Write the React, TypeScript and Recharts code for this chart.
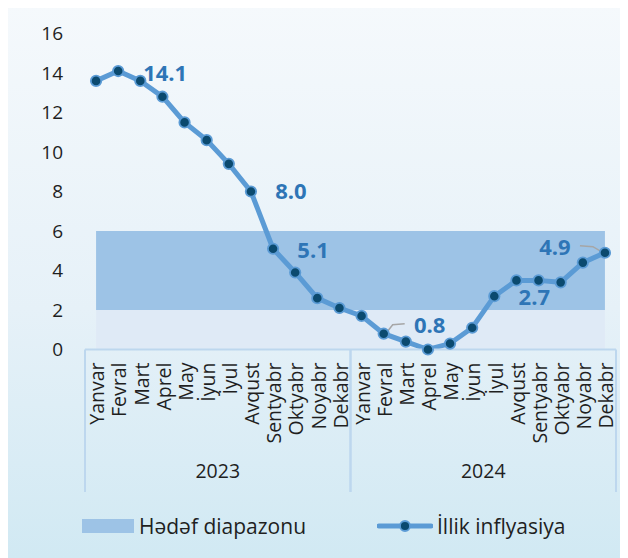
import React from 'react'
import { ComposedChart, Area, Line, XAxis, YAxis, Legend } from 'recharts'

const months = ['Yanvar', 'Fevral', 'Mart', 'Aprel', 'May', 'İyun', 'İyul', 'Avqust', 'Sentyabr', 'Oktyabr', 'Noyabr', 'Dekabr']
const years = ['2023', '2024']
const inflation2023 = [13.6, 14.1, 13.6, 12.8, 11.5, 10.6, 9.4, 8.0, 5.1, 3.9, 2.6, 2.1]
const inflation2024 = [1.7, 0.8, 0.4, 0.0, 0.3, 1.1, 2.7, 3.5, 3.5, 3.4, 4.4, 4.9]
const targetLow = 2
const targetHigh = 6
const yTicks = [0, 2, 4, 6, 8, 10, 12, 14, 16]

// which points get a value label, and where it sits relative to the point
const labelPlacement: Record<number, { dx: number; dy: number; leader?: number[][] }> = {
  1: { dx: 47, dy: 2 },
  7: { dx: 40, dy: 0 },
  8: { dx: 40, dy: 2 },
  13: { dx: 46, dy: -8, leader: [[2, 0], [9, -9], [21, -10]] },
  18: { dx: 40, dy: 1 },
  23: { dx: -50, dy: -5, leader: [[-2, 0], [-12, -6], [-25, -7]] },
}

const series = [inflation2023, inflation2024]
const data = years.flatMap((year, yi) =>
  months.map((month, mi) => ({
    id: `${month} ${year}`,
    month,
    year,
    value: series[yi][mi],
    low: targetLow,
    range: targetHigh - targetLow,
  }))
)

const FONT = '"Open Sans", "Noto Sans", sans-serif'
const LINE = '#5b9bd5'
const DOT = '#0b4a6f'
const BAND = '#9dc3e6'
const BAND_LOW = '#dfeaf6'
const AXIS = '#bdd7ee'
const TEXT = '#1f1f1f'
const LABEL = '#2e75b6'

const W = 620
const H = 554
const margin = { top: 29.5, right: 12, left: 0, bottom: 12 }
const plotLeft = 77
const bandW = (W - margin.right - plotLeft) / data.length

const MonthTick = (props: any) => {
  const { x, y, index } = props
  return (
    <text
      x={x}
      y={y + 13}
      transform={`rotate(-90, ${x}, ${y + 13})`}
      textAnchor="end"
      dy="0.42em"
      fontSize={19.5}
      fontFamily={FONT}
      fill={TEXT}
    >
      {data[index]?.month}
    </text>
  )
}

const YearTick = (props: any) => {
  const { x, y, payload } = props
  const half = bandW * months.length / 2
  return (
    <g>
      <line x1={x - half} x2={x - half} y1={y - 100} y2={y + 42.5} stroke={AXIS} strokeWidth={2} />
      <line x1={x + half} x2={x + half} y1={y - 100} y2={y + 42.5} stroke={AXIS} strokeWidth={2} />
      <text x={x} y={y + 21.5} dy="0.35em" textAnchor="middle" fontSize={19.5} fontFamily={FONT} fill={TEXT}>
        {payload.value}
      </text>
    </g>
  )
}

const renderDot = (props: any) => {
  const { cx, cy, index, value } = props
  const place = labelPlacement[index]
  const v = Array.isArray(value) ? value[1] : value
  return (
    <g key={`dot-${index}`}>
      {place?.leader && (
        <polyline
          points={place.leader.map(([a, b]) => `${cx + a},${cy + b}`).join(' ')}
          fill="none"
          stroke="#a6a6a6"
          strokeWidth={1.5}
        />
      )}
      <circle cx={cx} cy={cy} r={5.2} fill={DOT} stroke={LINE} strokeWidth={1.8} />
      {place && (
        <text
          x={cx + place.dx}
          y={cy + place.dy}
          dy="0.35em"
          textAnchor="middle"
          fontSize={22}
          fontWeight={700}
          fontFamily={FONT}
          fill={LABEL}
        >
          {Number(v).toFixed(1)}
        </text>
      )}
    </g>
  )
}

const renderLegend = () => (
  <div style={{ position: 'relative', height: 40, fontFamily: FONT, fontSize: 21, color: TEXT }}>
    <span style={{ position: 'absolute', left: 74, top: 13, width: 52, height: 14, background: BAND }} />
    <span style={{ position: 'absolute', left: 131, top: 5, lineHeight: '30px' }}>Hədəf diapazonu</span>
    <svg style={{ position: 'absolute', left: 369, top: 13 }} width={56} height={14}>
      <line x1={2} x2={54} y1={7} y2={7} stroke={LINE} strokeWidth={5} strokeLinecap="round" />
      <circle cx={28} cy={7} r={5} fill={DOT} stroke={LINE} strokeWidth={1.8} />
    </svg>
    <span style={{ position: 'absolute', left: 429, top: 5, lineHeight: '30px' }}>İllik inflyasiya</span>
  </div>
)

export default function App() {
  return (
    <div
      style={{
        width: W,
        height: H,
        marginTop: -4,
        background: 'linear-gradient(to bottom, #f5f9fc 0%, #e6f1f8 55%, #d1e9f3 100%)',
      }}
    >
      <ComposedChart width={W} height={H} data={data} margin={margin}>
        <XAxis
          dataKey="id"
          scale="band"
          interval={0}
          height={100}
          tickLine={false}
          tickSize={0}
          tickMargin={0}
          axisLine={{ stroke: AXIS, strokeWidth: 2 }}
          tick={<MonthTick />}
        />
        <XAxis
          xAxisId="year"
          dataKey="year"
          scale="band"
          allowDuplicatedCategory={false}
          ticks={years}
          interval={0}
          height={56.5}
          tickLine={false}
          tickSize={0}
          tickMargin={0}
          axisLine={false}
          tick={<YearTick />}
        />
        <YAxis
          domain={[0, 16]}
          ticks={yTicks}
          width={plotLeft}
          axisLine={false}
          tickLine={false}
          tickSize={0}
          tickMargin={22}
          tick={{ fontSize: 19, fontFamily: FONT, fill: TEXT }}
        />
        <Legend verticalAlign="bottom" content={renderLegend} />
        <Area
          dataKey="low"
          stackId="band"
          type="linear"
          stroke="none"
          fill={BAND_LOW}
          fillOpacity={1}
          isAnimationActive={false}
          legendType="none"
        />
        <Area
          dataKey="range"
          stackId="band"
          type="linear"
          stroke="none"
          fill={BAND}
          fillOpacity={1}
          isAnimationActive={false}
          name="Hədəf diapazonu"
        />
        <Line
          dataKey="value"
          type="linear"
          stroke={LINE}
          strokeWidth={5}
          dot={renderDot}
          activeDot={false}
          isAnimationActive={false}
          name="İllik inflyasiya"
        />
      </ComposedChart>
    </div>
  )
}
